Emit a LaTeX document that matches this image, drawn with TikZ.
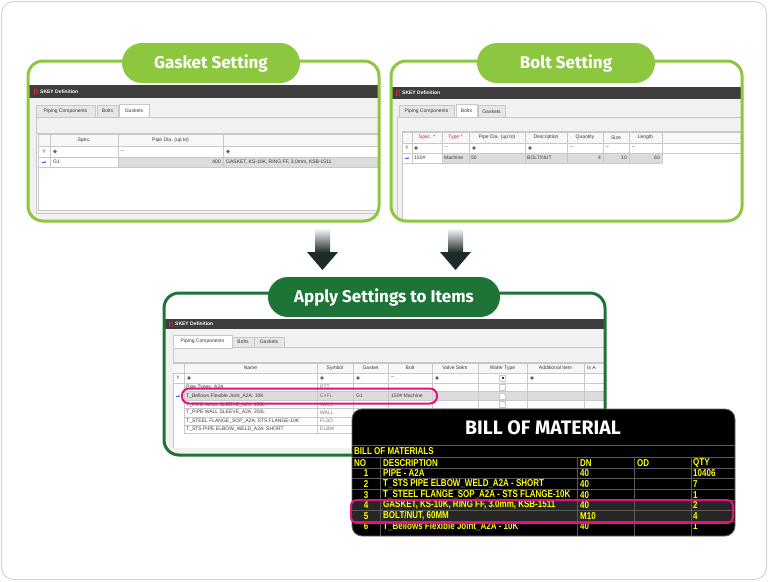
\documentclass[tikz,border=0pt]{standalone}
\usepackage{fontspec}
\setmainfont{Liberation Sans}
\newfontfamily\pillfont{Fira Sans}
\newfontfamily\bomfont[FakeStretch=0.8]{Liberation Sans}
\usetikzlibrary{arrows.meta}
\definecolor{leafgreen}{HTML}{8DC63F}
\definecolor{pinegreen}{HTML}{1D7436}
\definecolor{hotpink}{HTML}{E2137D}
\definecolor{bargray}{HTML}{3E3E3E}
\definecolor{tabgray}{HTML}{E6E6E6}
\definecolor{bandgray}{HTML}{F1F1F1}
\definecolor{linegray}{HTML}{C8C8C8}
\definecolor{cellgray}{HTML}{DCDCDC}
\definecolor{uitext}{HTML}{3A3A3A}
\definecolor{iconred}{HTML}{D62828}
\definecolor{icongreen}{HTML}{2E8B2E}
\definecolor{dropdark}{HTML}{1F2A2A}
\definecolor{bomyellow}{HTML}{FFFF00}
\definecolor{bomline}{HTML}{5A5A5A}
\definecolor{framegray}{HTML}{D5D5D5}
\begin{document}
\begin{tikzpicture}[x=1pt,y=-1pt,
    pill/.style={rounded corners=20pt,minimum height=40pt,inner sep=0pt,text=white,
      font=\pillfont\bfseries\fontsize{17}{17}\selectfont},
    ui/.style={inner sep=0pt,text=uitext,font=\fontsize{5}{5}\selectfont},
    uititle/.style={inner sep=0pt,text=white,anchor=west,font=\bfseries\fontsize{5}{5}\selectfont},
    tab/.style={ui,draw=linegray,fill=tabgray,minimum height=12pt},
    activetab/.style={tab,fill=white,minimum height=13pt},
    cellline/.style={draw=linegray,line width=0.5pt},
    bom/.style={inner sep=0pt,text=bomyellow,font=\bomfont\bfseries\fontsize{10}{10}\selectfont},
    ring/.style={draw=hotpink,line width=2pt,rounded corners=7pt},
    shaftfill/.style={top color=white,bottom color=dropdark},
    rowarrow/.style={blue!70,line width=0.6pt,-{Stealth[length=1.5pt,width=2pt]}}]
  \useasboundingbox (0,0) rectangle (768,581);
  \draw[framegray,line width=1pt,rounded corners=12pt,fill=white] (1.5,1.5) rectangle (766.5,579.5);

  % gasket setting
  \begin{scope}
    \clip[rounded corners=15pt] (28,61) rectangle (379,221);
    \fill[bargray] (28,85) rectangle (379,98);
    \fill[iconred] (34,88.5) rectangle (35,94.5) (36.5,88.5) rectangle (37.5,94.5);
    \node[uititle] (gtitle) at (40,91.5) {SKEY Definition};
    \fill[bandgray] (28,98) rectangle (379,221);
    \fill[white] (36,117) rectangle (379,210);
    \fill[bandgray] (36,117) rectangle (379,133);
    \draw[cellline] (36,117) -- (379,117) (36,133) -- (379,133) (36,117) -- (36,213) -- (379,213);
    \draw[cellline] (38,210) -- (379,210);
    \node[tab,minimum width=59pt] (gtabpipe) at (65.5,111) {Piping Components};
    \node[tab,minimum width=21pt] (gtabbolt) at (107.5,111) {Bolts};
    \node[activetab,minimum width=30pt] (gtabgask) at (134,110.5) {Gaskets};
    \fill[gray!6] (38,134) rectangle (379,146);
    \fill[cellgray] (118,157.5) rectangle (379,166.5);
    \draw[cellline] (38,134) -- (379,134) (38,146) -- (379,146) (38,157) -- (379,157) (38,167) -- (379,167);
    \foreach \cx in {38,50,118,223} \draw[cellline] (\cx,134) -- (\cx,167);
    \draw[cellline] (38,167) -- (38,210);
    \node[ui] (gspec) at (84,140) {Spec.};
    \node[ui] (gpipedia) at (170.5,140) {Pipe Dia. (up to)};
    \node[ui] (gfilt) at (44,151.5) {Y};
    \fill[icongreen] (55,151.5) circle (1.8) (228,151.5) circle (1.8);
    \node[ui,anchor=west] (gdash) at (121,151.5) {--};
    \draw[rowarrow] (42,162) -- (46,162);
    \node[ui,anchor=west] (gg1) at (53,162) {G1};
    \node[ui,anchor=east] (g400) at (221,162) {400};
    \node[ui,anchor=west] (gdesc) at (226,162) {GASKET, KS-10K, RING FF, 3.0mm, KSB-1511};
  \end{scope}
  \draw[leafgreen,line width=3pt,rounded corners=15pt] (28,61) rectangle (379,221);
  \node[pill,fill=leafgreen,minimum width=178pt] (gaspill) at (211,63) {Gasket Setting};

  % bolt setting
  \begin{scope}
    \clip[rounded corners=15pt] (391,61) rectangle (742,221);
    \fill[bargray] (391,87) rectangle (742,99);
    \fill[iconred] (396,90) rectangle (397,96) (398.5,90) rectangle (399.5,96);
    \node[uititle] (btitle) at (402,93) {SKEY Definition};
    \fill[bandgray] (391,99) rectangle (742,221);
    \fill[white] (402,131) rectangle (742,221);
    \draw[cellline] (397,117) -- (742,117) (397,117) -- (397,221) (402,131) -- (742,131);
    \node[tab,minimum width=55pt] (btabpipe) at (426.5,111.5) {Piping Components};
    \node[activetab,minimum width=21pt] (btabbolt) at (466.5,111) {Bolts};
    \node[tab,minimum width=27pt] (btabgask) at (491.5,111.5) {Gaskets};
    \fill[gray!6] (402,132) rectangle (742,143);
    \fill[cellgray] (442,153.5) rectangle (662,162.5);
    \draw[cellline] (402,132) -- (742,132) (402,143) -- (742,143) (402,153) -- (742,153) (402,163) -- (662,163);
    \foreach \cx in {402,412,442,469,525,567,603,629,662} \draw[cellline] (\cx,132) -- (\cx,163);
    \draw[cellline] (402,163) -- (402,221);
    \node[ui,text=iconred] (bspec) at (427,137.5) {Spec. *};
    \node[ui,text=iconred] (btype) at (455.5,137.5) {Type *};
    \node[ui] (bpipedia) at (497,137.5) {Pipe Dia. (up to)};
    \node[ui] (bdesc) at (546,137.5) {Description};
    \node[ui] (bqty) at (585,137.5) {Quantity};
    \node[ui] (bsize) at (616,137.5) {Size};
    \node[ui] (blength) at (645.5,137.5) {Length};
    \node[ui] (bfilt) at (407,148) {Y};
    \fill[icongreen] (416,148) circle (1.8) (474,148) circle (1.8) (530,148) circle (1.8);
    \node[ui,anchor=west] (bdash1) at (445,148) {--};
    \node[ui,anchor=west] (bdash2) at (570,148) {--};
    \node[ui,anchor=west] (bdash3) at (606,148) {--};
    \node[ui,anchor=west] (bdash4) at (632,148) {--};
    \draw[rowarrow] (405,158) -- (409,158);
    \node[ui,anchor=west] (b150) at (414,158) {150\#};
    \node[ui,anchor=west] (bmachine) at (444,158) {Machine};
    \node[ui,anchor=west] (b50) at (471,158) {50};
    \node[ui,anchor=west] (bboltnut) at (527,158) {BOLT/NUT};
    \node[ui,anchor=east] (b4) at (601,158) {4};
    \node[ui,anchor=east] (b10) at (627,158) {10};
    \node[ui,anchor=east] (b60) at (660,158) {60};
  \end{scope}
  \draw[leafgreen,line width=3pt,rounded corners=15pt] (391,61) rectangle (742,221);
  \node[pill,fill=leafgreen,minimum width=178pt] (boltpill) at (566,63) {Bolt Setting};

  % arrows down
  \coordinate (gasdrop) at (322.5,228);
  \coordinate (boltdrop) at (455.5,228);
  \shade[shaftfill] (gasdrop) ++(-7.5,0) rectangle ++(15,24.5);
  \fill[dropdark] (gasdrop) ++(-15.5,24) -- ++(31,0) -- ++(-15.5,18) -- cycle;
  \shade[shaftfill] (boltdrop) ++(-7.5,0) rectangle ++(15,24.5);
  \fill[dropdark] (boltdrop) ++(-15.5,24) -- ++(31,0) -- ++(-15.5,18) -- cycle;

  % apply settings
  \begin{scope}
    \clip[rounded corners=15pt] (164,293) rectangle (605,455);
    \fill[bargray] (164,319) rectangle (605,329);
    \fill[iconred] (169,321) rectangle (170,327) (171.5,321) rectangle (172.5,327);
    \node[uititle] (atitle) at (175,324) {SKEY Definition};
    \fill[bandgray] (164,329) rectangle (605,455);
    \fill[white] (173,347) rectangle (605,448);
    \fill[bandgray] (173,347) rectangle (605,362);
    \draw[cellline] (173,347) -- (605,347) (173,362) -- (605,362) (173,347) -- (173,448);
    \node[activetab,minimum width=59pt] (atabpipe) at (202.5,341.5) {Piping Components};
    \node[tab,minimum width=22pt,minimum height=10pt] (atabbolt) at (243,342) {Bolts};
    \node[tab,minimum width=30pt,minimum height=10pt] (atabgask) at (269,342) {Gaskets};
    \fill[gray!6] (173,363) rectangle (605,373);
    \fill[cellgray] (184,391.5) rectangle (605,400.5);
    \draw[cellline] (173,363) -- (605,363) (173,373) -- (605,373) (173,383) -- (605,383);
    \foreach \ly in {391.5,400.5,408.5,417,425,433} \draw[cellline] (184,\ly) -- (605,\ly);
    \foreach \cx in {184,317,353,388,432,478,527,584} \draw[cellline] (\cx,363) -- (\cx,433);
    \node[ui] (aname) at (250.5,368) {Name};
    \node[ui] (asymbol) at (335,368) {Symbol};
    \node[ui] (agasket) at (370.5,368) {Gasket};
    \node[ui] (abolt) at (410,368) {Bolt};
    \node[ui] (avalve) at (455,368) {Valve Stem};
    \node[ui] (awafer) at (502.5,368) {Wafer Type};
    \node[ui] (aaddit) at (555.5,368) {Additional Item};
    \node[ui,anchor=west] (aisa) at (587,368) {Is A};
    \node[ui] (afilt) at (178,378) {Y};
    \fill[icongreen] (189,378) circle (1.8) (322,378) circle (1.8) (358,378) circle (1.8)
      (437,378) circle (1.8) (532,378) circle (1.8);
    \node[ui,anchor=west] (adash) at (391,378) {--};
    \draw[cellline,fill=white] (499.5,375) rectangle (505.5,381);
    \fill[uitext] (501.5,377) rectangle (503.5,379);
    \foreach \nm/\sy/\ry [count=\i] in {Pipe Types: A2A/PTT/387,
        T\_Bellows Flexible Joint\_A2A: 10K/EXFL/396,
        T\_PIPE WALL SLEEVE\_A2A: 150L/WALL/405,
        T\_PIPE WALL SLEEVE\_A2A: 200L/WALL/412.5,
        T\_STEEL FLANGE\_SOP\_A2A: STS FLANGE-10K/FLSO/421,
        T\_STS PIPE ELBOW\_WELD\_A2A: SHORT/ELBW/429} {
      \node[ui,anchor=west] (arow\i) at (186,\ry) {\nm};
      \node[ui,anchor=west,text=uitext!70] (asym\i) at (320,\ry) {\sy};
    }
    \foreach \ry in {387,396,404.5} \draw[cellline,fill=white] (499.5,\ry-3) rectangle (505.5,\ry+3);
    \draw[rowarrow] (176,396) -- (180,396);
    \node[ui,anchor=west] (ag1) at (356,396) {G1};
    \node[ui,anchor=west] (a150) at (391,396) {150\# Machine};
  \end{scope}
  \draw[pinegreen,line width=3pt,rounded corners=15pt] (164,293) rectangle (605,455);
  \node[pill,fill=pinegreen,minimum width=232pt] (applypill) at (384,297) {Apply Settings to Items};
  \draw[ring] (182,388.5) rectangle (437,403.5);

  % bill of material
  \draw[black!60,line width=0.8pt,fill=black,rounded corners=10pt] (352,409) rectangle (735,536);
  \begin{scope}
    \clip[rounded corners=10pt] (352,409) rectangle (735,536);
    \fill[black!85] (352,500) rectangle (735,521.5);
    \draw[bomline,line width=0.6pt] (352,445) -- (735,445) (352,457) -- (735,457);
    \foreach \ly in {468,478.7,489.3,500,510.6,521.2} \draw[bomline,line width=0.6pt] (352,\ly) -- (735,\ly);
    \foreach \lx in {380,577,634,691} \draw[bomline,line width=0.6pt] (\lx,457) -- (\lx,536);
    \node[inner sep=0pt,text=white,font=\pillfont\bfseries\fontsize{19.5}{19.5}\selectfont] (bomtitle) at (543,428) {BILL OF MATERIAL};
    \node[bom,anchor=west] (bomcap) at (354,451.5) {BILL OF MATERIALS};
    \node[bom,anchor=west] (bomhno) at (354,462.8) {NO};
    \node[bom,anchor=west] (bomhdesc) at (383,462.8) {DESCRIPTION};
    \node[bom,anchor=west] (bomhdn) at (580,462.8) {DN};
    \node[bom,anchor=west] (bomhod) at (637,462.8) {OD};
    \node[bom,anchor=west] (bomhqty) at (693,462.8) {QTY};
    \foreach \desc/\dn/\qty [count=\i] in {PIPE - A2A/40/10406,
        T\_STS PIPE ELBOW\_WELD\_A2A - SHORT/40/7,
        T\_STEEL FLANGE\_SOP\_A2A - STS FLANGE-10K/40/1,
        {GASKET, KS-10K, RING FF, 3.0mm, KSB-1511}/40/2,
        {BOLT/NUT, 60MM}/M10/4,
        T\_Bellows Flexible Joint\_A2A - 10K/40/1} {
      \node[bom] (bomno\i) at (366,{473.4+10.6*(\i-1)}) {\i};
      \node[bom,anchor=west] (bomdesc\i) at (383,{473.4+10.6*(\i-1)}) {\desc};
      \node[bom,anchor=west] (bomdn\i) at (580,{473.4+10.6*(\i-1)}) {\dn};
      \node[bom,anchor=west] (bomqty\i) at (693,{473.4+10.6*(\i-1)}) {\qty};
    }
  \end{scope}
  \draw[ring,rounded corners=6pt] (351,500) rectangle (733,523);
\end{tikzpicture}
\end{document}
